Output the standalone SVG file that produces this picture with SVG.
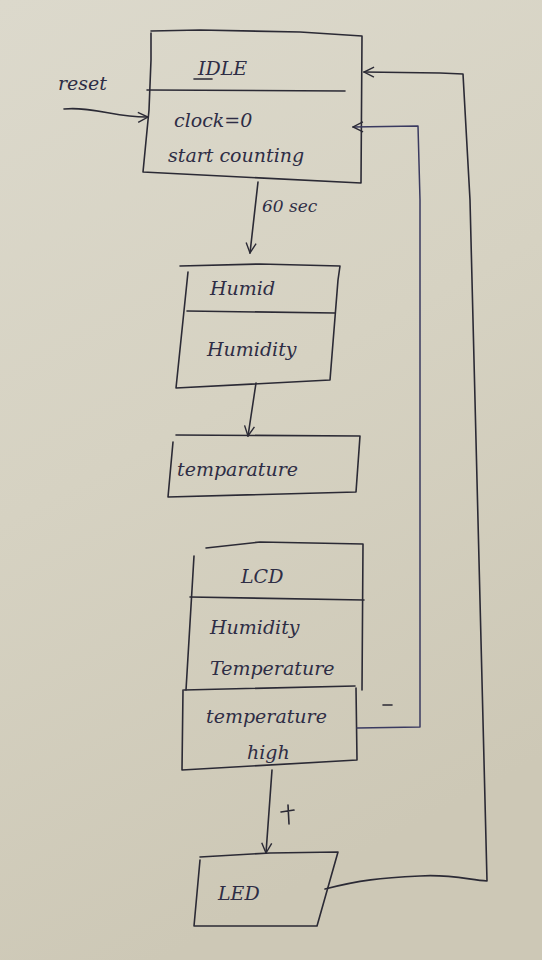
<svg xmlns="http://www.w3.org/2000/svg" width="542" height="960" viewBox="0 0 542 960">
<defs>
<linearGradient id="paper" x1="0" y1="0" x2="0.3" y2="1">
<stop offset="0" stop-color="#dcd9cc"/>
<stop offset="0.5" stop-color="#d6d2c2"/>
<stop offset="1" stop-color="#cdc8b6"/>
</linearGradient>
<marker id="open" viewBox="0 0 12 12" refX="11" refY="6" markerWidth="12" markerHeight="12" markerUnits="userSpaceOnUse" orient="auto">
<path d="M1,1 L11,6 L1,11" fill="none" stroke="#2b2a35" stroke-width="1.4"/>
</marker>
</defs>
<style>
.ln{fill:none;stroke:#2b2a35;stroke-width:1.6;stroke-linecap:round;stroke-linejoin:round}
.bl{fill:none;stroke:#3a3a60;stroke-width:1.5;stroke-linecap:round;stroke-linejoin:round}
.t{font-family:"DejaVu Serif","Liberation Serif",serif;font-style:italic;fill:#2e2d45;font-size:19px}
.s{font-size:17px}
</style>
<rect width="542" height="960" fill="url(#paper)"/>

<g id="IDLE">
<path class="ln" d="M151,33 L151,60 L149,110 L143,172 L361,183 L362,36 L300,32 L200,30 L151,31"/>
<path class="ln" d="M147,90 L345,91"/>
<text class="t" x="198" y="75">IDLE</text>
<path class="ln" d="M194,79 L212,79"/>
<text class="t" x="174" y="127">clock=0</text>
<text class="t" x="168" y="162">start counting</text>
</g>

<g id="Humid">
<path class="ln" d="M180,266 L260,264 L340,266 L338,280 L330,380 L176,388 L188,272"/>
<path class="ln" d="M187,311 L335,313"/>
<text class="t" x="210" y="295">Humid</text>
<text class="t" x="207" y="356">Humidity</text>
</g>

<g id="temparature">
<path class="ln" d="M176,435 L360,436 L356,492 L168,497 L173,442"/>
<text class="t" x="177" y="476">temparature</text>
</g>

<g id="LCD">
<path class="ln" d="M206,548 L260,542 L363,544 L362,690"/>
<path class="ln" d="M194,556 L186,690"/>
<path class="ln" d="M190,597 L364,600"/>
<path class="ln" d="M184,690 L355,686"/>
<path class="ln" d="M183,690 L182,770 L357,760 L356,688"/>
<text class="t" x="241" y="583">LCD</text>
<text class="t" x="210" y="634">Humidity</text>
<text class="t" x="210" y="675">Temperature</text>
<text class="t" x="206" y="723">temperature</text>
<text class="t" x="247" y="759">high</text>
</g>

<g id="LED">
<path class="ln" d="M200,857 L270,853 L338,852 L317,926 L194,926 L200,860"/>
<text class="t" x="218" y="900">LED</text>
</g>

<g id="connectors">
<text class="t" x="58" y="90">reset</text>
<path class="ln" d="M64,109 C90,106 120,118 148,117" marker-end="url(#open)"/>
<path class="ln" d="M258,182 L250,253" marker-end="url(#open)"/>
<text class="t s" x="262" y="212">60 sec</text>
<path class="ln" d="M256,383 L248,436" marker-end="url(#open)"/>
<path class="bl" d="M357,728 L420,727 L420,200 L418,126 L353,127" marker-end="url(#open)"/>
<path class="ln" d="M383,705 L392,705"/>
<path class="ln" d="M272,770 L266,853" marker-end="url(#open)"/>
<path class="ln" d="M281,812 L294,810 M288,805 L289,824"/>
<path class="ln" d="M325,889 C360,880 380,878 420,876 C450,874 470,880 487,881 L470,200 L463,74 L440,73 L364,72" marker-end="url(#open)"/>
</g>
</svg>
